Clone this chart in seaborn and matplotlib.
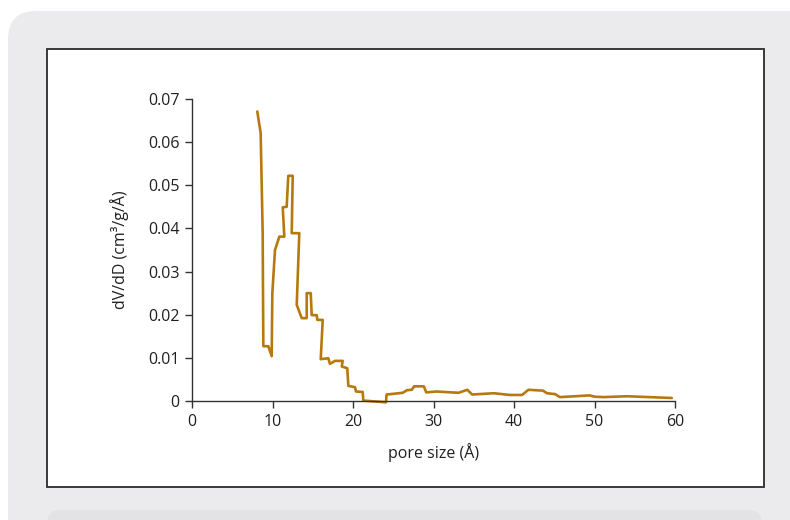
import numpy as np
import pandas as pd
import matplotlib
matplotlib.use("Agg")
import matplotlib.pyplot as plt
from matplotlib.patches import FancyBboxPatch, Rectangle
import seaborn as sns

## pore size distribution
pore_size = [8.11, 8.53, 8.78, 8.86, 9.48, 9.90, 9.98, 10.31, 10.85, 11.47,
             11.27, 11.76, 11.96, 12.51, 12.39, 13.33, 13.01, 13.63, 14.25, 14.25,
             14.75, 14.87, 15.49, 15.57, 16.24, 15.99, 16.93, 17.14, 17.76, 18.72,
             18.60, 19.29, 19.42, 20.25, 20.37, 21.20, 21.28, 24.10, 24.17, 26.17,
             26.70, 27.30, 27.60, 28.80, 29.10, 30.40, 33.10, 34.20, 34.80, 37.50,
             39.50, 41.00, 41.80, 43.60, 44.10, 45.10, 45.70, 49.40, 50.00, 51.10,
             54.00, 59.60]
dvdd = [0.0671, 0.0621, 0.0389, 0.0127, 0.0127, 0.0104, 0.0250, 0.0350, 0.0381, 0.0381,
        0.0449, 0.0450, 0.0522, 0.0522, 0.0389, 0.0389, 0.0223, 0.0192, 0.0192, 0.0250,
        0.0250, 0.0199, 0.0199, 0.0188, 0.0188, 0.0097, 0.0099, 0.0086, 0.0093, 0.0093,
        0.0080, 0.0076, 0.0035, 0.0032, 0.0022, 0.0021, 0.0001, -0.0003, 0.0015, 0.0019,
        0.0025, 0.0026, 0.0034, 0.0034, 0.0020, 0.0022, 0.0019, 0.0026, 0.0015, 0.0018,
        0.0014, 0.0014, 0.0026, 0.0024, 0.0018, 0.0016, 0.0009, 0.0013, 0.0010, 0.0009,
        0.0011, 0.0007]

x_ticks = [0, 10, 20, 30, 40, 50, 60]
y_ticks = [0, 0.01, 0.02, 0.03, 0.04, 0.05, 0.06, 0.07]
y_tick_labels = ["0", "0.01", "0.02", "0.03", "0.04", "0.05", "0.06", "0.07"]

df = pd.DataFrame({"pore": pore_size, "dvdd": dvdd})

sns.set_style("white")
plt.rcParams['font.family'] = ['Open Sans', 'DejaVu Sans']
ink = "#231f20"

fig = plt.figure(figsize=(7.9, 5.2), dpi=100, facecolor="white")

## background card drawn in pixel units
bg = fig.add_axes([0, 0, 1, 1])
bg.set_xlim(0, 790)
bg.set_ylim(520, 0)
bg.axis("off")
bg.add_patch(FancyBboxPatch((8, 11), 810, 560, boxstyle="round,pad=0,rounding_size=28",
                            fc="#ebebed", ec="none"))
bg.add_patch(FancyBboxPatch((47, 510), 715, 60, boxstyle="round,pad=0,rounding_size=14",
                            fc="#e3e3e5", ec="none"))
bg.add_patch(Rectangle((47, 49), 717, 438, fc="white", ec="#2b2b2b", lw=1.3))

ax = fig.add_axes([192/790, 1-401/520, (675-192)/790, (401-99)/520])
ax.set_facecolor("none")
sns.lineplot(data=df, x="pore", y="dvdd", sort=False, estimator=None,
             color="#b5790e", lw=1.9, ax=ax, clip_on=False)

ax.set_xlim(0, 60)
ax.set_ylim(0, 0.07)
ax.set_xticks(x_ticks)
ax.set_yticks(y_ticks)
ax.set_yticklabels(y_tick_labels)
ax.tick_params(direction="out", length=5, width=1, color="#333333",
               labelsize=11.5, labelcolor=ink, left=True, bottom=True, pad=4)
for s in ["top", "right"]:
    ax.spines[s].set_visible(False)
for s in ["left", "bottom"]:
    ax.spines[s].set_color("#333333")
    ax.spines[s].set_linewidth(1)

ax.set_xlabel("pore size (Å)", fontsize=11.5, color=ink, labelpad=10)
ax.set_ylabel("dV/dD (cm³/g/Å)", fontsize=11.5, color=ink, labelpad=14)

fig.savefig("out.png", dpi=100)
